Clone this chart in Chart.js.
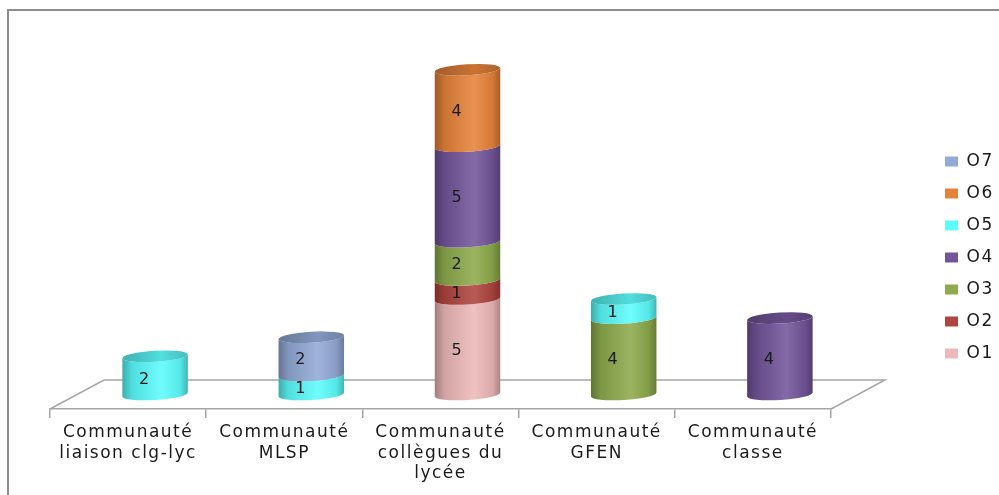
<!DOCTYPE html>
<html>
<head>
<meta charset="utf-8">
<script src="https://cdn.jsdelivr.net/npm/chart.js@4"></script>
<style>
html, body { margin: 0; padding: 0; background: #fff; }
</style>
</head>
<body>
<canvas id="chart" width="999" height="495"></canvas>
<script>
// Catégories (axe x)
const categories = [
    ['Communauté', 'liaison clg-lyc'],
    ['Communauté', 'MLSP'],
    ['Communauté', 'collègues du', 'lycée'],
    ['Communauté', 'GFEN'],
    ['Communauté', 'classe']
];

// Séries O1..O7 (empilées de bas en haut)
const seriesNames = ['O1', 'O2', 'O3', 'O4', 'O5', 'O6', 'O7'];
const o1 = [null, null, 5, null, null];
const o2 = [null, null, 1, null, null];
const o3 = [null, null, 2, 4, null];
const o4 = [null, null, 5, null, 4];
const o5 = [2, 1, null, 1, null];
const o6 = [null, null, 4, null, null];
const o7 = [null, 2, null, null, null];
const seriesValues = [o1, o2, o3, o4, o5, o6, o7];
const seriesColors = ['#EDB9B8', '#B0443F', '#8DAA4C', '#73569A', '#5CFCFC', '#E6833A', '#93AAD6'];

const FONT = 'DejaVu Sans';
const GRID = '#A6A6A6';
const DEPTH_X = 54;   // profondeur du "sol" 3D
const DEPTH_Y = 29;

function shade(hex, f) {
    const n = parseInt(hex.slice(1), 16);
    const mix = c => f < 0 ? Math.round(c * (1 + f)) : Math.round(c + (255 - c) * f);
    return `rgb(${mix(n >> 16)},${mix((n >> 8) & 255)},${mix(n & 255)})`;
}

function drawBody(ctx, cx, yBot, yTop, rx, ry, rot, color) {
    const grad = ctx.createLinearGradient(cx - rx, 0, cx + rx, 0);
    grad.addColorStop(0, shade(color, -0.32));
    grad.addColorStop(0.15, shade(color, -0.12));
    grad.addColorStop(0.6, shade(color, 0.12));
    grad.addColorStop(0.88, shade(color, -0.08));
    grad.addColorStop(1, shade(color, -0.28));
    ctx.beginPath();
    ctx.ellipse(cx, yBot, rx, ry, rot, 0, Math.PI, false);
    ctx.ellipse(cx, yTop, rx, ry, rot, Math.PI, 0, true);
    ctx.closePath();
    ctx.fillStyle = grad;
    ctx.fill();
}

function drawCap(ctx, cx, y, rx, ry, rot, color) {
    const grad = ctx.createLinearGradient(cx - rx, 0, cx + rx, 0);
    grad.addColorStop(0, shade(color, -0.3));
    grad.addColorStop(0.6, shade(color, -0.12));
    grad.addColorStop(1, shade(color, -0.25));
    ctx.beginPath();
    ctx.ellipse(cx, y, rx, ry, rot, 0, Math.PI * 2);
    ctx.fillStyle = grad;
    ctx.fill();
}

// élargit la légende à une largeur fixe
const legendWidth = {
    id: 'legendWidth',
    afterInit(chart) {
        const legend = chart.legend;
        const fit = legend.fit.bind(legend);
        legend.fit = function () { fit(); this.width = 69; };
    }
};

const cylinders = {
    id: 'cylinders',
    beforeDraw(chart) {
        chart.ctx.letterSpacing = '1.5px';
    },
    beforeDatasetsDraw(chart) {
        // sol en perspective
        const { ctx, chartArea: a } = chart;
        ctx.save();
        ctx.strokeStyle = GRID;
        ctx.lineWidth = 1.5;
        ctx.beginPath();
        ctx.moveTo(a.left, a.bottom);
        ctx.lineTo(a.left + DEPTH_X, a.bottom - DEPTH_Y);
        ctx.lineTo(a.right + DEPTH_X, a.bottom - DEPTH_Y);
        ctx.lineTo(a.right, a.bottom);
        ctx.stroke();
        ctx.restore();
    },
    beforeDatasetDraw() {
        return false;
    },
    afterDatasetsDraw(chart) {
        const ctx = chart.ctx;
        const dx = DEPTH_X / 2, dy = -DEPTH_Y / 2;
        const rot = -0.06, ry = 5.5;
        const labels = [];
        ctx.save();
        categories.forEach((c, i) => {
            let top = null;
            seriesValues.forEach((vals, d) => {
                const v = vals[i];
                if (v === null || v === 0) return;
                const el = chart.getDatasetMeta(d).data[i];
                const cx = el.x + dx;
                const rx = el.width / 2;
                drawBody(ctx, cx, el.base + dy, el.y + dy, rx, ry, rot, seriesColors[d]);
                top = { cx, y: el.y + dy, rx, color: seriesColors[d] };
                labels.push({ x: cx - 11, y: (el.base + el.y) / 2 + dy + 4, text: String(v) });
            });
            if (top) drawCap(ctx, top.cx, top.y, top.rx, ry, rot, top.color);
        });
        ctx.letterSpacing = '0px';
        ctx.fillStyle = '#1a1a1a';
        ctx.font = `16px "${FONT}"`;
        ctx.textAlign = 'center';
        ctx.textBaseline = 'middle';
        labels.forEach(l => ctx.fillText(l.text, l.x, l.y));
        ctx.restore();
    },
    afterDraw(chart) {
        const ctx = chart.ctx;
        ctx.save();
        ctx.strokeStyle = '#8C8C8C';
        ctx.lineWidth = 2;
        ctx.beginPath();
        ctx.moveTo(8, chart.height);
        ctx.lineTo(8, 10);
        ctx.lineTo(chart.width, 10);
        ctx.stroke();
        ctx.restore();
    }
};

new Chart(document.getElementById('chart'), {
    type: 'bar',
    data: {
        labels: categories,
        datasets: seriesNames.map((name, i) => ({
            label: name,
            data: seriesValues[i],
            backgroundColor: seriesColors[i],
            borderWidth: 0,
            categoryPercentage: 1,
            barPercentage: 0.42
        }))
    },
    options: {
        responsive: false,
        animation: false,
        layout: { padding: { left: 50, right: 0, top: 27, bottom: 7 } },
        plugins: {
            legend: {
                position: 'right',
                reverse: true,
                labels: {
                    boxWidth: 13,
                    boxHeight: 10,
                    padding: 15,
                    color: '#1a1a1a',
                    font: { family: FONT, size: 17 }
                }
            },
            tooltip: { enabled: false }
        },
        scales: {
            x: {
                stacked: true,
                grid: { display: true, drawOnChartArea: false, drawTicks: true, tickLength: 9, color: GRID, lineWidth: 1.5, offset: true },
                border: { color: GRID, width: 1.5 },
                ticks: { color: '#1a1a1a', font: { family: FONT, size: 17, lineHeight: 1.22 }, maxRotation: 0, autoSkip: false, padding: 4 },
                afterFit(s) { s.height = 79; }
            },
            y: { stacked: true, display: false, min: 0, max: 20 },
            pad: {
                type: 'linear',
                position: 'right',
                display: true,
                grid: { display: false },
                border: { display: false },
                ticks: { display: false },
                afterFit(s) { s.width = 99; }
            }
        }
    },
    plugins: [legendWidth, cylinders]
});
</script>
</body>
</html>
